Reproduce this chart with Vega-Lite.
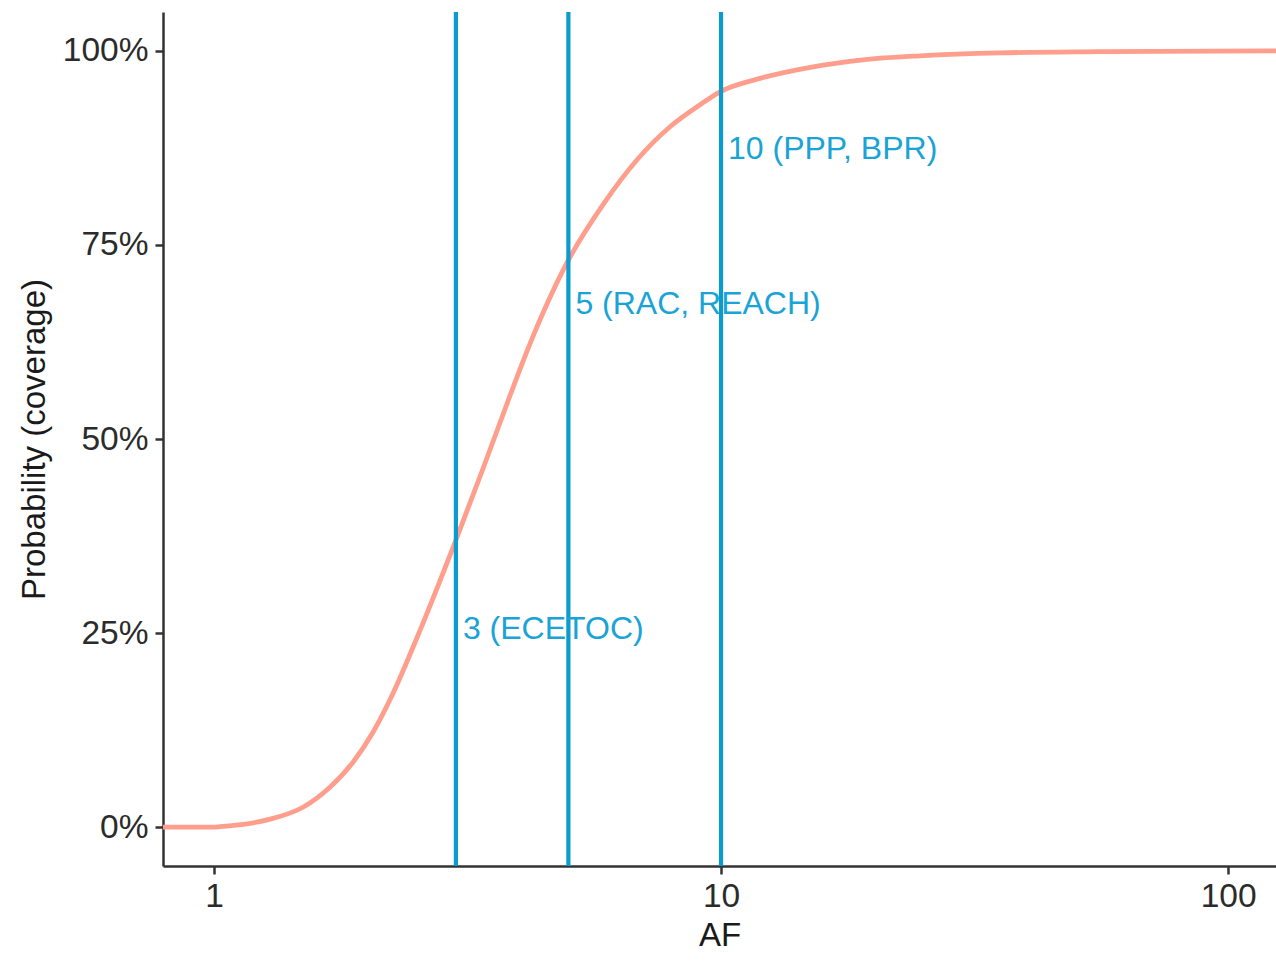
{
  "$schema": "https://vega.github.io/schema/vega-lite/v6.json",
  "width": 1113,
  "height": 854,
  "autosize": {"type": "none"},
  "padding": {"left": 163, "top": 12, "right": 0, "bottom": 98},
  "background": "white",
  "config": {"view": {"stroke": null}, "font": "Liberation Sans"},
  "datasets": {
    "curve": [
      {"AF": 0.7934, "p": 0},
      {"AF": 0.897, "p": 0},
      {"AF": 1.0, "p": 0},
      {"AF": 1.028, "p": 0.0008},
      {"AF": 1.151, "p": 0.0039},
      {"AF": 1.29, "p": 0.0103},
      {"AF": 1.498, "p": 0.0257},
      {"AF": 1.693, "p": 0.0515},
      {"AF": 1.88, "p": 0.0837},
      {"AF": 2.059, "p": 0.1223},
      {"AF": 2.255, "p": 0.1725},
      {"AF": 2.469, "p": 0.2317},
      {"AF": 2.988, "p": 0.3668},
      {"AF": 3.394, "p": 0.462},
      {"AF": 3.836, "p": 0.556},
      {"AF": 4.201, "p": 0.6229},
      {"AF": 4.969, "p": 0.7272},
      {"AF": 5.852, "p": 0.8018},
      {"AF": 6.83, "p": 0.8597},
      {"AF": 7.933, "p": 0.9022},
      {"AF": 9.091, "p": 0.9305},
      {"AF": 9.954, "p": 0.9472},
      {"AF": 11.94, "p": 0.9645},
      {"AF": 15.19, "p": 0.9794},
      {"AF": 19.06, "p": 0.9884},
      {"AF": 24.7, "p": 0.9936},
      {"AF": 35.51, "p": 0.9974},
      {"AF": 55.93, "p": 0.9989},
      {"AF": 124.3, "p": 1.0}
    ],
    "refs": [
      {"AF": 3, "p": 0.255, "label": "3 (ECETOC)"},
      {"AF": 5, "p": 0.674, "label": "5 (RAC, REACH)"},
      {"AF": 10, "p": 0.874, "label": "10 (PPP, BPR)"}
    ]
  },
  "layer": [
    {
      "data": {"name": "curve"},
      "mark": {"type": "line", "color": "#FF9E8C", "strokeWidth": 4.8, "interpolate": "monotone", "clip": true},
      "encoding": {
        "x": {
          "field": "AF", "type": "quantitative",
          "scale": {"type": "log", "domain": [0.7934, 124.3], "nice": false},
          "axis": {
            "values": [1, 10, 100], "format": "~g", "grid": false,
            "domainColor": "#333333", "domainWidth": 2.5,
            "tickColor": "#333333", "tickWidth": 2.5, "tickSize": 8,
            "labelFontSize": 33.5, "labelColor": "#2b2b2b", "labelPadding": 6,
            "labelFlush": false,
            "title": "AF", "titleFontSize": 33, "titleFontWeight": "normal",
            "titleColor": "#1a1a1a", "titlePadding": 7
          }
        },
        "y": {
          "field": "p", "type": "quantitative",
          "scale": {"domain": [-0.05, 1.05], "nice": false, "zero": false},
          "axis": {
            "values": [0, 0.25, 0.5, 0.75, 1], "format": ".0%", "grid": false,
            "domainColor": "#333333", "domainWidth": 2.5,
            "tickColor": "#333333", "tickWidth": 2.5, "tickSize": 8,
            "labelFontSize": 33.5, "labelColor": "#2b2b2b", "labelPadding": 7,
            "labelFlush": false,
            "title": "Probability (coverage)", "titleFontSize": 33, "titleFontWeight": "normal",
            "titleColor": "#1a1a1a", "titlePadding": 11
          }
        }
      }
    },
    {
      "data": {"name": "refs"},
      "mark": {"type": "rule", "color": "#0A9BCF", "strokeWidth": 4.2},
      "encoding": {
        "x": {"field": "AF", "type": "quantitative"}
      }
    },
    {
      "data": {"name": "refs"},
      "mark": {"type": "text", "align": "left", "baseline": "middle", "dx": 7, "fontSize": 32, "color": "#1AA3D6"},
      "encoding": {
        "x": {"field": "AF", "type": "quantitative"},
        "y": {"field": "p", "type": "quantitative"},
        "text": {"field": "label"}
      }
    }
  ]
}
